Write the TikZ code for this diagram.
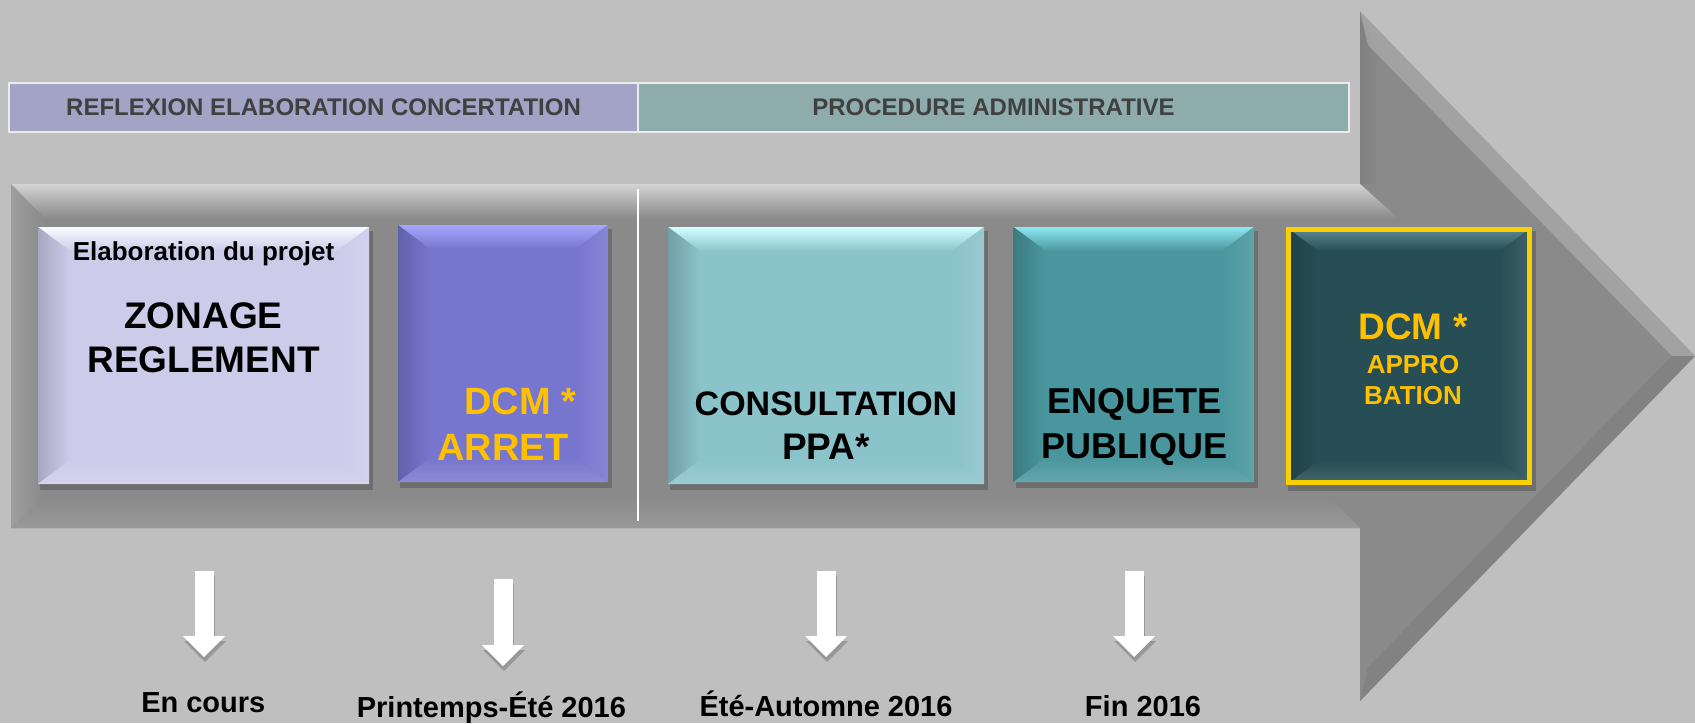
\documentclass[tikz,border=0pt]{standalone}
\usepackage{fontspec}
\setmainfont{Liberation Sans}
\usetikzlibrary{arrows.meta,calc}
\definecolor{bg}{HTML}{BFBFBF}
\definecolor{arrowgray}{HTML}{8A8A8A}
\definecolor{hdrA}{HTML}{A3A3C5}
\definecolor{hdrB}{HTML}{8FACAC}
\definecolor{hdrtext}{HTML}{404040}
\definecolor{cA}{HTML}{CDCBEA}\definecolor{lA}{HTML}{FAFAFF}
\definecolor{cB}{HTML}{7776CE}\definecolor{lB}{HTML}{A6A6FF}
\definecolor{cC}{HTML}{8AC3CA}\definecolor{lC}{HTML}{D2FFFF}
\definecolor{cD}{HTML}{4A969E}\definecolor{lD}{HTML}{8CE8F0}
\definecolor{cE}{HTML}{264E54}\definecolor{lE}{HTML}{5E8E94}
\definecolor{gold}{HTML}{FFC000}
\definecolor{goldframe}{HTML}{F8D000}
\newcommand\bevelbox[7]{%
  \fill[black,opacity=0.2] (#2-#4/2+2,#3-#5/2+4) rectangle (#2+#4/2+4,#3+#5/2+6);
  \node[boxbase,fill=#6,minimum width=#4pt,minimum height=#5pt] (#1) at (#2,#3) {};
  \shade[top color=#7,bottom color=#6] (#1.north west) -- (#1.north east) -- ($(#1.north east)+(-32,24)$) -- ($(#1.north west)+(32,24)$) -- cycle;
  \shade[left color=#6!82!black,right color=#6] (#1.north west) -- ($(#1.north west)+(32,24)$) -- ($(#1.south west)+(32,-24)$) -- (#1.south west) -- cycle;
  \shade[left color=#6,right color=#6!88!white] (#1.north east) -- ($(#1.north east)+(-32,24)$) -- ($(#1.south east)+(-32,-24)$) -- (#1.south east) -- cycle;
  \shade[top color=#6,bottom color=#6!85!white] (#1.south west) -- (#1.south east) -- ($(#1.south east)+(-32,-24)$) -- ($(#1.south west)+(32,-24)$) -- cycle;
}
\tikzset{
  boxbase/.style={inner sep=0pt,outer sep=0pt,draw=none},
  hdr/.style={inner sep=0pt,outer sep=0pt,minimum height=49pt,text=hdrtext,font=\bfseries\fontsize{24}{27}\selectfont},
  big/.style={anchor=base,inner sep=0pt,font=\bfseries\fontsize{37}{44}\selectfont},
  mid/.style={anchor=base,inner sep=0pt,font=\bfseries\fontsize{34}{40}\selectfont},
  small/.style={anchor=base,inner sep=0pt,font=\bfseries\fontsize{26}{30}\selectfont},
  datelabel/.style={anchor=base,inner sep=0pt,font=\bfseries\fontsize{29}{34}\selectfont},
  downarr/.style={draw=white,line width=19pt,-{Triangle[width=42pt,length=21pt,line width=0pt]}},
  downshadow/.style={draw=black,opacity=0.2,line width=19pt,-{Triangle[width=42pt,length=21pt,line width=0pt]}},
}
\begin{document}
\begin{tikzpicture}[x=1pt,y=-1pt]
\useasboundingbox (0,0) rectangle (1695,723);
\fill[bg] (0,0) rectangle (1695,723);
% big arrow
\fill[arrowgray] (11,184) -- (1360,184) -- (1360,11.5) -- (1695,356) -- (1360,701) -- (1360,528) -- (11,528) -- cycle;
\shade[top color=black!17,bottom color=arrowgray] (11,184) -- (1360,184) -- (1398,218) -- (44,218) -- cycle;
\shade[left color=black!38,right color=arrowgray] (11,184) -- (44,218) -- (44,497) -- (11,528) -- cycle;
\shade[top color=arrowgray,bottom color=black!40] (11,528) -- (44,497) -- (1330,497) -- (1360,528) -- cycle;
\shade[left color=black!50,right color=arrowgray] (1360,11.5) -- (1380,60) -- (1380,184) -- (1360,184) -- cycle;
\fill[black!34,opacity=0.8] (1360,11.5) -- (1695,356) -- (1672,356) -- (1368,45) -- cycle;
\fill[black!50,opacity=0.7] (1360,701) -- (1695,356) -- (1672,356) -- (1368,667) -- cycle;
\draw[white,line width=1.5pt] (638,189) -- (638,521);
% header
\node[hdr,fill=hdrA,minimum width=629pt] (h1) at (323.5,107.5) {REFLEXION ELABORATION CONCERTATION};
\node[hdr,fill=hdrB,minimum width=711pt] (h2) at (993.5,107.5) {PROCEDURE ADMINISTRATIVE};
\draw[black!8,line width=2pt] (h1.north west) rectangle (h2.south east);
\draw[black!8,line width=1.5pt] (h1.north east) -- (h1.south east);
% boxes
\bevelbox{b1}{203.5}{355.5}{331}{257}{cA}{lA}
\bevelbox{b2}{503}{353.5}{210}{257}{cB}{lB}
\bevelbox{b3}{826}{355.5}{316}{257}{cC}{lC}
\bevelbox{b4}{1133.75}{354.5}{240.5}{255}{cD}{lD}
\bevelbox{b5}{1409}{356}{246}{258}{cE}{lE}
\draw[goldframe,line width=5pt] ($(b5.north west)+(2.5,2.5)$) rectangle ($(b5.south east)+(-2.5,-2.5)$);
% box texts
\node[anchor=base,inner sep=0pt,font=\bfseries\fontsize{26}{30}\selectfont] (t1a) at (203.5,260) {Elaboration du projet};
\node[big] (t1b) at (203.5,328) {ZONAGE};
\node[big] (t1c) at (203.5,372.7) {REGLEMENT};
\node[big,text=gold,anchor=base west,font=\bfseries\fontsize{38}{44}\selectfont] (t2a) at (464,414) {DCM *};
\node[big,text=gold,font=\bfseries\fontsize{38}{44}\selectfont] (t2b) at (503,460) {ARRET};
\node[mid] (t3a) at (826,415.7) {CONSULTATION};
\node[big] (t3b) at (826,459) {PPA*};
\node[big,font=\bfseries\fontsize{36}{42}\selectfont] (t4a) at (1134,413) {ENQUETE};
\node[big,font=\bfseries\fontsize{36}{42}\selectfont] (t4b) at (1134,458) {PUBLIQUE};
\node[big,text=gold] (t5a) at (1413,339) {DCM *};
\node[small,text=gold] (t5b) at (1413,373.4) {APPRO};
\node[small,text=gold] (t5c) at (1413,404.8) {BATION};
% down arrows
\coordinate (d1s) at (204,571); \coordinate (d1e) at (204,657);
\coordinate (d2s) at (503,579); \coordinate (d2e) at (503,666);
\coordinate (d3s) at (826,571); \coordinate (d3e) at (826,657);
\coordinate (d4s) at (1134,571); \coordinate (d4e) at (1134,657);
\foreach \i in {1,2,3,4}{
  \draw[downshadow] ($(d\i s)+(1,5)$) -- ($(d\i e)+(1,5)$);
  \draw[downarr] (d\i s) -- (d\i e);
}
% date labels
\node[datelabel] (l1) at (203.3,712) {En cours};
\node[datelabel] (l2) at (491.4,717) {Printemps-Été 2016};
\node[datelabel] (l3) at (826,716) {Été-Automne 2016};
\node[datelabel] (l4) at (1143,716) {Fin 2016};
\end{tikzpicture}
\end{document}
